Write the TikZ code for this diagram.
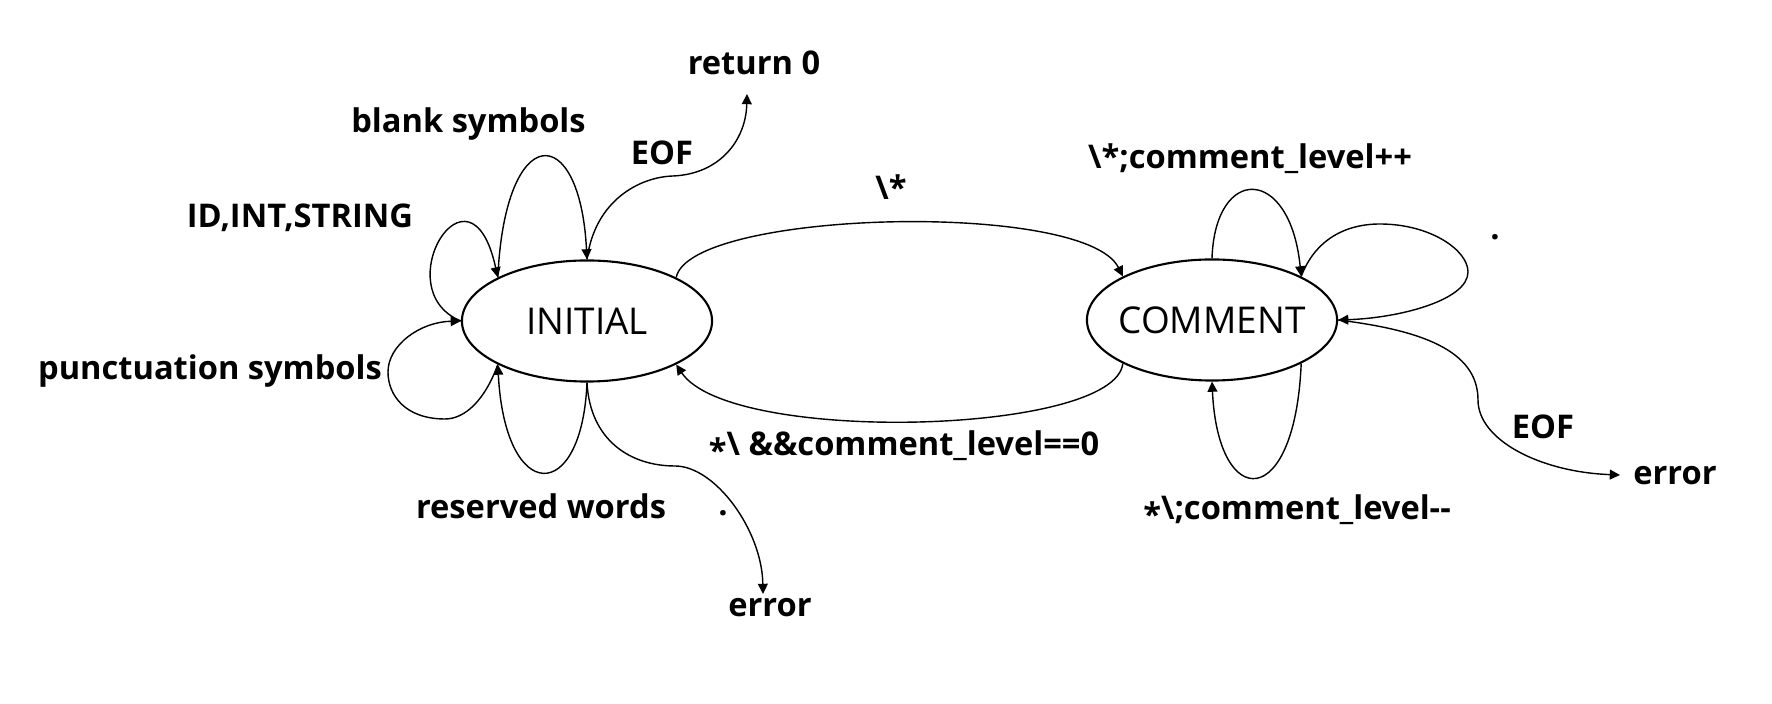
\documentclass[tikz,border=0pt]{standalone}
\usepackage{fontspec}
\setmainfont{Open Sans}
\usetikzlibrary{arrows.meta,shapes.geometric}
\newcommand{\lowast}{\raisebox{-0.35ex}{*}}
\begin{document}
\begin{tikzpicture}[x=0.01cm,y=-0.01cm,
  state/.style={draw, ellipse, line width=0.6pt, minimum width=2.5cm, minimum height=1.21cm, inner xsep=-0.12cm, inner ysep=0pt, font=\fontsize{10.5pt}{12pt}\selectfont},
  lbl/.style={anchor=base, inner sep=0pt, font=\fontsize{9.28pt}{11pt}\selectfont\bfseries},
  conn/.style={line width=0.4pt, -{Triangle[length=2.9pt,width=2.8pt]}}]
\useasboundingbox (0,0) rectangle (1772,704);

\node[state] (INITIAL) at (587,321) {INITIAL};
\node[state] (COMMENT) at (1212,320) {COMMENT};

\node[lbl] (ret) at (754,75) {return 0};
\node[lbl] (blank) at (468.5,133) {blank symbols};
\node[lbl] (eofa) at (662,165) {EOF};
\node[lbl] (idint) at (300,228) {ID,INT,STRING};
\node[lbl] (start) at (891,200) {\textbackslash*};
\node[lbl] (inc) at (1250,169) {\textbackslash*;comment\_level++};
\node[lbl] (dota) at (1495,240) {.};
\node[lbl] (punct) at (210,380) {punctuation symbols};
\node[lbl] (back) at (904,456) {\lowast\textbackslash{} \&\&comment\_level==0};
\node[lbl] (dotb) at (723,516) {.};
\node[lbl] (resv) at (541,519) {reserved words};
\node[lbl] (erra) at (770,617) {error};
\node[lbl] (eofb) at (1543,439) {EOF};
\node[lbl] (errb) at (1675,485) {error};
\node[lbl] (dec) at (1297,520) {\lowast\textbackslash;comment\_level-{}-};

\coordinate (retin) at (747,94);
\coordinate (errain) at (763,594);
\coordinate (errbin) at (1620,475);

% INITIAL self loops
\draw[conn] (INITIAL.west) .. controls (385,290) and (470,150) .. (INITIAL.north west);
\draw[conn] (INITIAL.north west) .. controls (505,120) and (580,120) .. (INITIAL.north);
\draw[conn] (INITIAL.south west) .. controls (485,400) and (465,419) .. (445,419)
  .. controls (405,419) and (388,395) .. (388,372)
  .. controls (388,345) and (420,322) .. (INITIAL.west);
\draw[conn] (INITIAL.south) .. controls (582,505) and (505,505) .. (INITIAL.south west);

% INITIAL exits
\draw[conn] (INITIAL.north) .. controls (595,200) and (640,177) .. (673,176)
  .. controls (720,174) and (746,140) .. (retin);
\draw[conn] (INITIAL.south) .. controls (590,440) and (630,466) .. (675,466)
  .. controls (715,466) and (762,530) .. (errain);

% between states
\draw[conn] (INITIAL.north east) .. controls (690,210) and (1085,200) .. (COMMENT.north west);
\draw[conn] (COMMENT.south west) .. controls (1115,435) and (730,445) .. (INITIAL.south east);

% COMMENT self loops
\draw[conn] (COMMENT.north) .. controls (1215,165) and (1290,165) .. (COMMENT.north east);
\draw[conn] (COMMENT.north east) .. controls (1315,240) and (1345,224) .. (1380,224)
  .. controls (1430,224) and (1468,250) .. (1468,272)
  .. controls (1468,300) and (1400,318) .. (COMMENT.east);
\draw[conn] (COMMENT.south east) .. controls (1295,512) and (1218,512) .. (COMMENT.south);

% COMMENT exit
\draw[conn] (COMMENT.east) .. controls (1420,330) and (1478,350) .. (1478,400)
  .. controls (1478,440) and (1540,472) .. (errbin);
\end{tikzpicture}
\end{document}
